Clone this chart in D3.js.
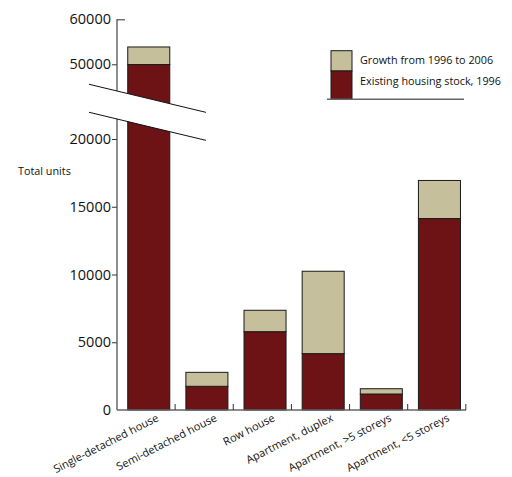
<!DOCTYPE html>
<head>
<meta charset="UTF-8">
<title>Housing units by type</title>
<script src="https://cdnjs.cloudflare.com/ajax/libs/d3/7.8.5/d3.min.js"></script>
<style>
body
{
margin:0;
background:#fff;
}
text
{
font-family:"Open Sans",sans-serif;
fill:#111;
}
.yaxis text
{
font-size:14.5px;
}
.xlabel
{
font-size:11px;
}
.legend text, .ytitle
{
font-size:10.8px;
}
</style>
</head>
<body>
<div id="chart"></div>

<script>
var width=512, height=477;

var categories=["Single-detached house","Semi-detached house","Row house","Apartment, duplex","Apartment, >5 storeys","Apartment, <5 storeys"];
var existing1996=[49900,1750,5780,4160,1180,14130];
var growth9606=[3950,1030,1580,6080,390,2810];
var seriesNames=["Existing housing stock, 1996","Growth from 1996 to 2006"];
var yTicks=[0,5000,10000,15000,20000,50000,60000];

var colors=["#6d1315","#c6bf9b"];

var rows=categories.map(function(c,i){return {cat:c,existing:existing1996[i],growth:growth9606[i]};});
var stacked=d3.stack().keys(["existing","growth"])(rows);

var svg=d3.select("#chart").append("svg").attr("width",width).attr("height",height);

// x: bands between axis start and last tick
var x=d3.scaleBand().domain(categories).range([117,466]).paddingInner(0.277).paddingOuter(0.14).align(0.66);
// y: broken scale, lower part 0..20000 and upper part 50000..60000
var y=d3.scaleLinear().domain([0,20000,50000,60000]).range([410,139,64.3,19.3]);

// bars
svg.selectAll(".layer").data(stacked).enter().append("g")
  .attr("fill",function(d,i){return colors[i];})
  .selectAll("rect").data(function(d){return d;}).enter().append("rect")
  .attr("x",function(d){return x(d.data.cat);})
  .attr("width",x.bandwidth())
  .attr("y",function(d){return y(d[1]);})
  .attr("height",function(d){return y(d[0])-y(d[1]);})
  .attr("stroke","#1a1a1a")
  .attr("stroke-width",1);

// y axis
var yAxis=svg.append("g").attr("class","yaxis").attr("transform","translate(117,0)")
  .call(d3.axisLeft(y).tickValues(yTicks).tickSize(5).tickPadding(1).tickFormat(d3.format("d")));
yAxis.select(".domain").remove();
yAxis.selectAll(".tick line").attr("stroke","#333");
yAxis.selectAll(".tick").filter(function(d){return d==60000;}).select("line").attr("x2",8); // top tick points right
yAxis.selectAll(".tick").filter(function(d){return d==0;}).select("line").remove();
svg.append("line").attr("x1",117).attr("x2",117).attr("y1",y(60000)).attr("y2",y(0))
  .attr("stroke","#444").attr("stroke-width",1.2);

// x axis baseline with upward ticks at band boundaries
svg.append("line").attr("x1",117).attr("x2",x.range()[1]).attr("y1",y(0)).attr("y2",y(0))
  .attr("stroke","#666").attr("stroke-width",1.5);
svg.selectAll(".xtick").data(categories).enter().append("line")
  .attr("x1",function(d,i){return x.range()[0]+x.step()*(i+1);})
  .attr("x2",function(d,i){return x.range()[0]+x.step()*(i+1);})
  .attr("y1",y(0)).attr("y2",y(0)-6)
  .attr("stroke","#333");

svg.selectAll(".xlabel").data(categories).enter().append("text")
  .attr("class","xlabel")
  .attr("text-anchor","end")
  .attr("transform",function(d){return "translate("+(x(d)+x.bandwidth()/2+7)+",413) rotate(-27)";})
  .attr("dy","0.75em")
  .text(function(d){return d;});

// axis break: white band with two slanted lines
var slope=0.24, bx0=89, bx1=206;
var topY=function(px){return 91+(px-117)*slope;};
var botY=function(px){return 119+(px-117)*slope;};
svg.append("polygon")
  .attr("points",[[bx0,topY(bx0)],[bx1,topY(bx1)],[bx1,botY(bx1)],[bx0,botY(bx0)]].map(function(p){return p.join(",");}).join(" "))
  .attr("fill","#fff");
[topY,botY].forEach(function(f){
  svg.append("line").attr("x1",bx0).attr("y1",f(bx0)).attr("x2",bx1).attr("y2",f(bx1))
    .attr("stroke","#111").attr("stroke-width",1);
});

svg.append("text").attr("class","ytitle").attr("x",18).attr("y",175).text("Total units");

// legend
var legend=svg.append("g").attr("class","legend");
var lx=331, lw=21;
var legRows=[{name:seriesNames[1],color:colors[1],y0:50.7,y1:71},{name:seriesNames[0],color:colors[0],y0:71,y1:99.3}];
legend.selectAll("rect").data(legRows).enter().append("rect")
  .attr("x",lx).attr("width",lw)
  .attr("y",function(d){return d.y0;})
  .attr("height",function(d){return d.y1-d.y0;})
  .attr("fill",function(d){return d.color;})
  .attr("stroke","#1a1a1a");
legend.selectAll("text").data(legRows).enter().append("text")
  .attr("x",360)
  .attr("y",function(d,i){return i==0?63.5:85;})
  .text(function(d){return d.name;});
legend.append("line").attr("x1",327).attr("x2",464).attr("y1",99.3).attr("y2",99.3)
  .attr("stroke","#666").attr("stroke-width",1.5);
</script>
</body>
</html>
